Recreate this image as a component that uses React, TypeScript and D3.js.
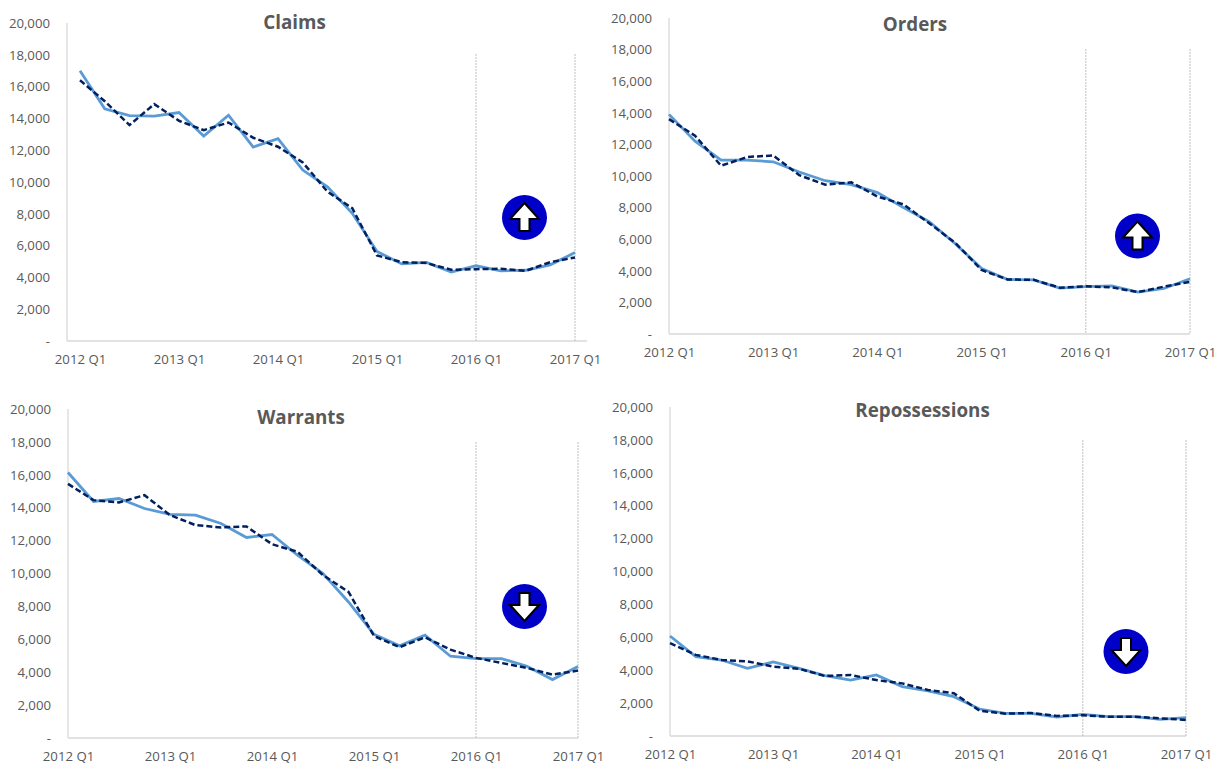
import React, { useEffect, useRef } from "react";
import * as d3 from "d3";

const years = [2012, 2013, 2014, 2015, 2016];
const quarters: string[] = [...years.flatMap((y) => [1, 2, 3, 4].map((q) => `${y} Q${q}`)), "2017 Q1"];
const yearTicks = ["2012 Q1", "2013 Q1", "2014 Q1", "2015 Q1", "2016 Q1", "2017 Q1"];
const valueTicks = [0, 2000, 4000, 6000, 8000, 10000, 12000, 14000, 16000, 18000, 20000];
const markerQuarters = ["2016 Q1", "2017 Q1"];

const claimsActual = [17000, 14600, 14180, 14140, 14370, 12890, 14200, 12200, 12720, 10750, 9700, 8030, 5630, 4850, 4940, 4330, 4730, 4410, 4450, 4790, 5560];
const claimsModel = [16400, 15080, 13580, 14900, 13850, 13260, 13740, 12780, 12220, 11230, 9390, 8350, 5380, 4960, 4900, 4480, 4520, 4540, 4410, 4960, 5250];
const ordersActual = [13900, 12200, 11000, 11000, 10900, 10250, 9700, 9450, 8950, 8000, 7100, 5700, 4150, 3450, 3430, 2900, 3000, 3050, 2650, 2880, 3500];
const ordersModel = [13600, 12550, 10650, 11200, 11300, 10050, 9450, 9600, 8700, 8200, 7000, 5750, 4050, 3450, 3430, 2930, 3020, 2950, 2650, 3000, 3300];
const warrantsActual = [16140, 14380, 14560, 13950, 13600, 13550, 13040, 12190, 12370, 11110, 10000, 8270, 6300, 5600, 6250, 4970, 4830, 4830, 4360, 3550, 4340];
const warrantsModel = [15450, 14460, 14320, 14760, 13550, 12940, 12800, 12860, 11780, 11320, 9900, 8880, 6200, 5520, 6120, 5370, 4870, 4560, 4260, 3850, 4100];
const repoActual = [6080, 4820, 4620, 4115, 4500, 4115, 3670, 3400, 3710, 3000, 2740, 2390, 1640, 1380, 1380, 1155, 1320, 1175, 1175, 1010, 1115];
const repoModel = [5640, 4930, 4620, 4540, 4220, 4090, 3650, 3710, 3400, 3200, 2800, 2600, 1540, 1360, 1400, 1220, 1260, 1175, 1175, 1075, 975];

const FONT = "'Open Sans', sans-serif";
const TEXT = "#595959";

const panels = [
  { title: "Claims", actual: claimsActual, model: claimsModel, dir: "up",
    axisL: 67, axisR: 587, x0: 80, x1: 575, yTop: 23, yBot: 341, markTop: 54, titleX: 294.5, titleY: 23.5, cx: 524.5, cy: 217.5 },
  { title: "Orders", actual: ordersActual, model: ordersModel, dir: "up",
    axisL: 669, axisR: 1190, x0: 669, x1: 1190, yTop: 18, yBot: 334, markTop: 49, titleX: 915, titleY: 25.5, cx: 1137.5, cy: 236 },
  { title: "Warrants", actual: warrantsActual, model: warrantsModel, dir: "down",
    axisL: 68, axisR: 578, x0: 68, x1: 578, yTop: 409, yBot: 738, markTop: 442, titleX: 301, titleY: 418.5, cx: 524.5, cy: 606.5 },
  { title: "Repossessions", actual: repoActual, model: repoModel, dir: "down",
    axisL: 670, axisR: 1186, x0: 670, x1: 1186, yTop: 407, yBot: 736, markTop: 440, titleX: 922.5, titleY: 411.5, cx: 1126, cy: 651.5 },
];

export default function App() {
  const ref = useRef<SVGSVGElement | null>(null);
  useEffect(() => {
    const svg = d3.select(ref.current);
    svg.selectAll("*").remove();
    panels.forEach((p) => {
      const x = d3.scalePoint<string>().domain(quarters).range([p.x0, p.x1]);
      const y = d3.scaleLinear().domain([0, 20000]).range([p.yBot, p.yTop]);
      const g = svg.append("g");

      const yAxis = g.append("g").attr("transform", `translate(${p.axisL},0)`)
        .call(d3.axisLeft(y).tickValues(valueTicks).tickSize(0).tickPadding(17)
          .tickFormat((d) => (+d === 0 ? "-" : d3.format(",")(+d))));
      const xAxis = g.append("g").attr("transform", `translate(0,${p.yBot})`)
        .call(d3.axisBottom(x).tickValues(yearTicks).tickSize(0).tickPadding(14));
      [yAxis, xAxis].forEach((a) => {
        a.select(".domain").remove();
        a.selectAll("text").attr("font-family", FONT).attr("font-size", 13.2).attr("fill", TEXT);
      });

      g.append("line").attr("x1", p.axisL).attr("x2", p.axisL).attr("y1", p.yTop).attr("y2", p.yBot)
        .attr("stroke", "#d9d9d9").attr("stroke-width", 1.3);
      g.append("line").attr("x1", p.axisL).attr("x2", p.axisR).attr("y1", p.yBot).attr("y2", p.yBot)
        .attr("stroke", "#d9d9d9").attr("stroke-width", 1.3);

      markerQuarters.forEach((q) => {
        g.append("line").attr("x1", x(q)!).attr("x2", x(q)!).attr("y1", p.markTop).attr("y2", p.yBot)
          .attr("stroke", "#bfbfbf").attr("stroke-width", 1).attr("stroke-dasharray", "2 1");
      });

      const line = d3.line<number>().x((_, i) => x(quarters[i])!).y((d) => y(d));
      g.append("path").attr("d", line(p.actual)!).attr("fill", "none")
        .attr("stroke", "#5b9bd5").attr("stroke-width", 2.8);
      g.append("path").attr("d", line(p.model)!).attr("fill", "none")
        .attr("stroke", "#002060").attr("stroke-width", 2.5).attr("stroke-dasharray", "6 3");

      g.append("text").text(p.title).attr("x", p.titleX).attr("y", p.titleY)
        .attr("text-anchor", "middle").attr("dominant-baseline", "middle")
        .attr("font-family", FONT).attr("font-weight", 700).attr("font-size", 18.8).attr("fill", TEXT);

      const s = p.dir === "up" ? 1 : -1;
      const arrow = g.append("g").attr("transform", `translate(${p.cx},${p.cy})`);
      arrow.append("circle").attr("r", 22.5).attr("fill", "#0000c8");
      const pts: [number, number][] = [[0, -14.5], [14.5, 1.5], [5, 1.5], [5, 13.5], [-5, 13.5], [-5, 1.5], [-14.5, 1.5]];
      arrow.append("polygon").attr("points", pts.map(([a, b]) => `${a},${b * s}`).join(" "))
        .attr("fill", "#fff").attr("stroke", "#000").attr("stroke-width", 2).attr("stroke-linejoin", "miter");
    });
  }, []);
  return (
    <svg ref={ref} width={1221} height={765} viewBox="0 0 1221 765"
      style={{ position: "absolute", left: 0, top: 0, display: "block", background: "#fff" }} />
  );
}
